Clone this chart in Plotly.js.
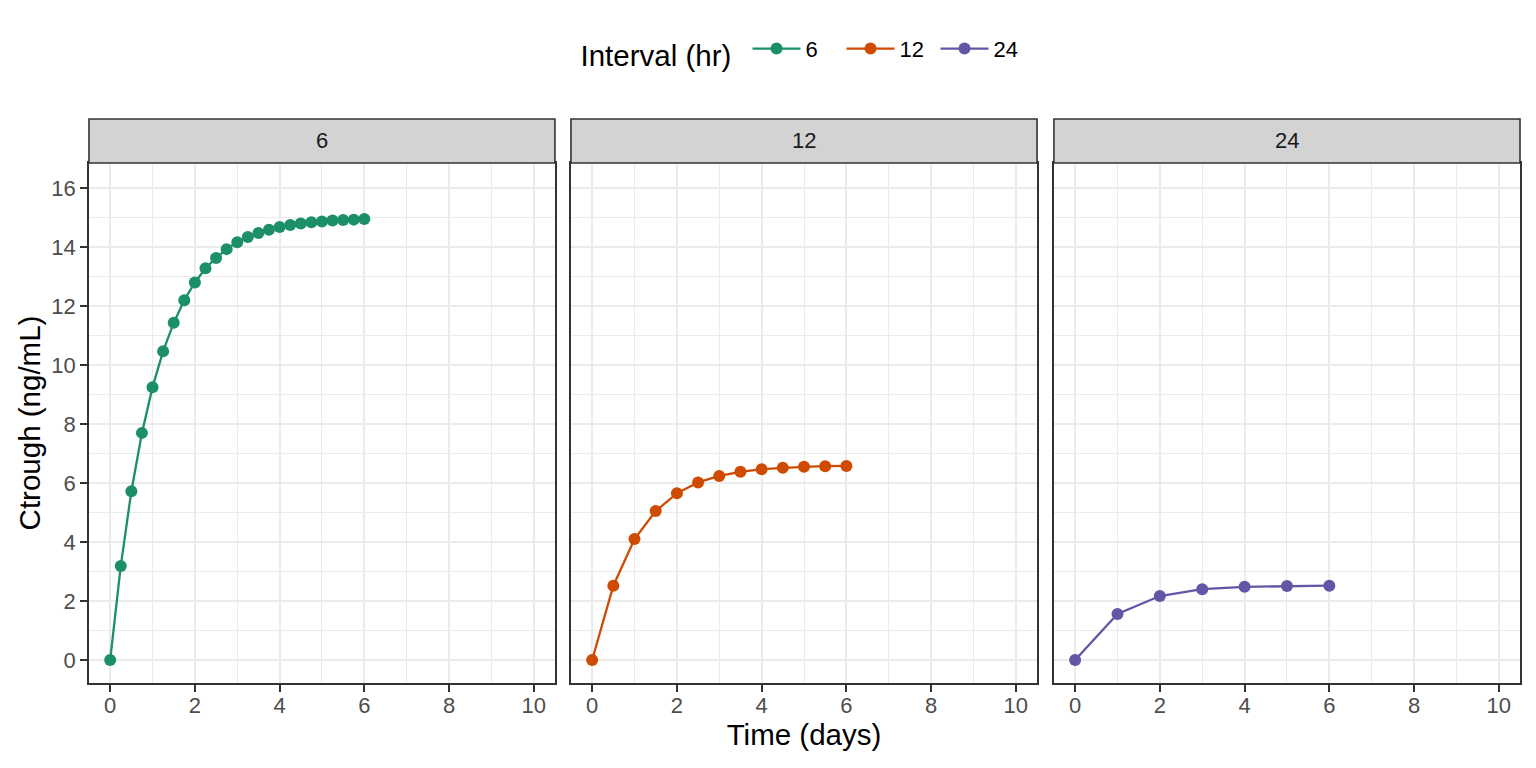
<!DOCTYPE html>
<html>
<head>
<meta charset="utf-8">
<script src="https://cdn.plot.ly/plotly-3.0.1.min.js"></script>
<style>html,body{margin:0;padding:0;background:#fff;}#chart{width:1536px;height:768px;}</style>
</head>
<body>
<div id="chart"></div>
<script>
// Facet labels (dosing interval, hr)
const intervals = ["6", "12", "24"];
const colors = ["#1B8F6A", "#CF4B02", "#6356A6"];

// Interval 6 hr
const time6 = [0, 0.25, 0.5, 0.75, 1, 1.25, 1.5, 1.75, 2, 2.25, 2.5, 2.75, 3, 3.25, 3.5, 3.75, 4, 4.25, 4.5, 4.75, 5, 5.25, 5.5, 5.75, 6];
const ctrough6 = [0, 3.19, 5.72, 7.70, 9.25, 10.47, 11.43, 12.20, 12.80, 13.28, 13.63, 13.93, 14.16, 14.34, 14.48, 14.59, 14.68, 14.75, 14.80, 14.84, 14.87, 14.90, 14.92, 14.93, 14.95];

// Interval 12 hr
const time12 = [0, 0.5, 1, 1.5, 2, 2.5, 3, 3.5, 4, 4.5, 5, 5.5, 6];
const ctrough12 = [0, 2.52, 4.10, 5.05, 5.65, 6.02, 6.24, 6.38, 6.47, 6.52, 6.55, 6.57, 6.58];

// Interval 24 hr
const time24 = [0, 1, 2, 3, 4, 5, 6];
const ctrough24 = [0, 1.56, 2.17, 2.40, 2.48, 2.51, 2.52];

const xTicks = [0, 2, 4, 6, 8, 10];
const yTicks = [0, 2, 4, 6, 8, 10, 12, 14, 16];

const times = [time6, time12, time24];
const values = [ctrough6, ctrough12, ctrough24];

const font = "Liberation Sans, Arial, sans-serif";
const domains = [[0, 0.3256], [0.3368, 0.6625], [0.6743, 1]];

const traces = intervals.map((lab, i) => ({
  type: "scatter",
  mode: "lines+markers",
  name: lab,
  x: times[i],
  y: values[i],
  xaxis: i === 0 ? "x" : "x" + (i + 1),
  yaxis: i === 0 ? "y" : "y" + (i + 1),
  line: {color: colors[i], width: 2.3},
  marker: {color: colors[i], size: 12},
  showlegend: true,
  hoverinfo: "x+y"
}));

const layout = {
  width: 1536, height: 768,
  paper_bgcolor: "#fff", plot_bgcolor: "#fff",
  margin: {l: 89, r: 16, t: 163, b: 85},
  font: {family: font, size: 22, color: "#4D4D4D"},
  showlegend: true,
  legend: {
    orientation: "h", x: 0.5, xanchor: "center", y: 1.213, yanchor: "middle",
    font: {family: font, size: 22, color: "#000"},
    title: {text: "Interval (hr) ", font: {family: font, size: 29.5, color: "#000"}, side: "left"},
    itemwidth: 48, entrywidth: 31, entrywidthmode: "pixels", tracegroupgap: 0
  },
  shapes: [],
  annotations: []
};

const stripH = 44 / 520;
domains.forEach((d, i) => {
  const sx = i === 0 ? "" : String(i + 1);
  layout["xaxis" + sx] = {
    domain: d, range: [-0.5, 10.5], anchor: "y" + sx,
    tickvals: xTicks, ticktext: xTicks.map(String),
    ticks: "outside", ticklen: 7, tickwidth: 2, tickcolor: "#333333",
    ticklabelstandoff: -5,
    tickfont: {family: font, size: 22, color: "#4D4D4D"},
    showgrid: true, gridcolor: "#EBEBEB", gridwidth: 2.2,
    minor: {dtick: 1, tick0: 0, showgrid: true, gridcolor: "#EBEBEB", gridwidth: 1.1, ticks: ""},
    zeroline: false, showline: true, linecolor: "#333333", linewidth: 1.6, mirror: true,
    fixedrange: true
  };
  layout["yaxis" + sx] = {
    domain: [0, 1], range: [-0.78, 16.85], anchor: "x" + sx,
    tickvals: yTicks, ticktext: yTicks.map(String),
    showticklabels: i === 0,
    ticks: i === 0 ? "outside" : "", ticklen: 7, tickwidth: 2, tickcolor: "#333333",
    tickfont: {family: font, size: 22, color: "#4D4D4D"},
    showgrid: true, gridcolor: "#EBEBEB", gridwidth: 2.2,
    minor: {dtick: 1, tick0: 0, showgrid: true, gridcolor: "#EBEBEB", gridwidth: 1.1, ticks: ""},
    zeroline: false, showline: true, linecolor: "#333333", linewidth: 1.6, mirror: true,
    fixedrange: true
  };
  layout.shapes.push({
    type: "rect", xref: "paper", yref: "paper",
    x0: d[0], x1: d[1], y0: 1, y1: 1 + stripH,
    fillcolor: "#D3D3D3", line: {color: "#333333", width: 1.6}
  });
  layout.annotations.push({
    xref: "paper", yref: "paper", x: (d[0] + d[1]) / 2, y: 1 + stripH / 2,
    text: intervals[i], showarrow: false, xanchor: "center", yanchor: "middle",
    font: {family: font, size: 22, color: "#1A1A1A"}
  });
});

layout.xaxis2.title = {text: "Time (days)", font: {family: font, size: 29.5, color: "#000"}, standoff: 6};
layout.yaxis.title = {text: "Ctrough (ng/mL)", font: {family: font, size: 29.5, color: "#000"}, standoff: 2};

Plotly.newPlot("chart", traces, layout, {displayModeBar: false});
</script>
</body>
</html>
